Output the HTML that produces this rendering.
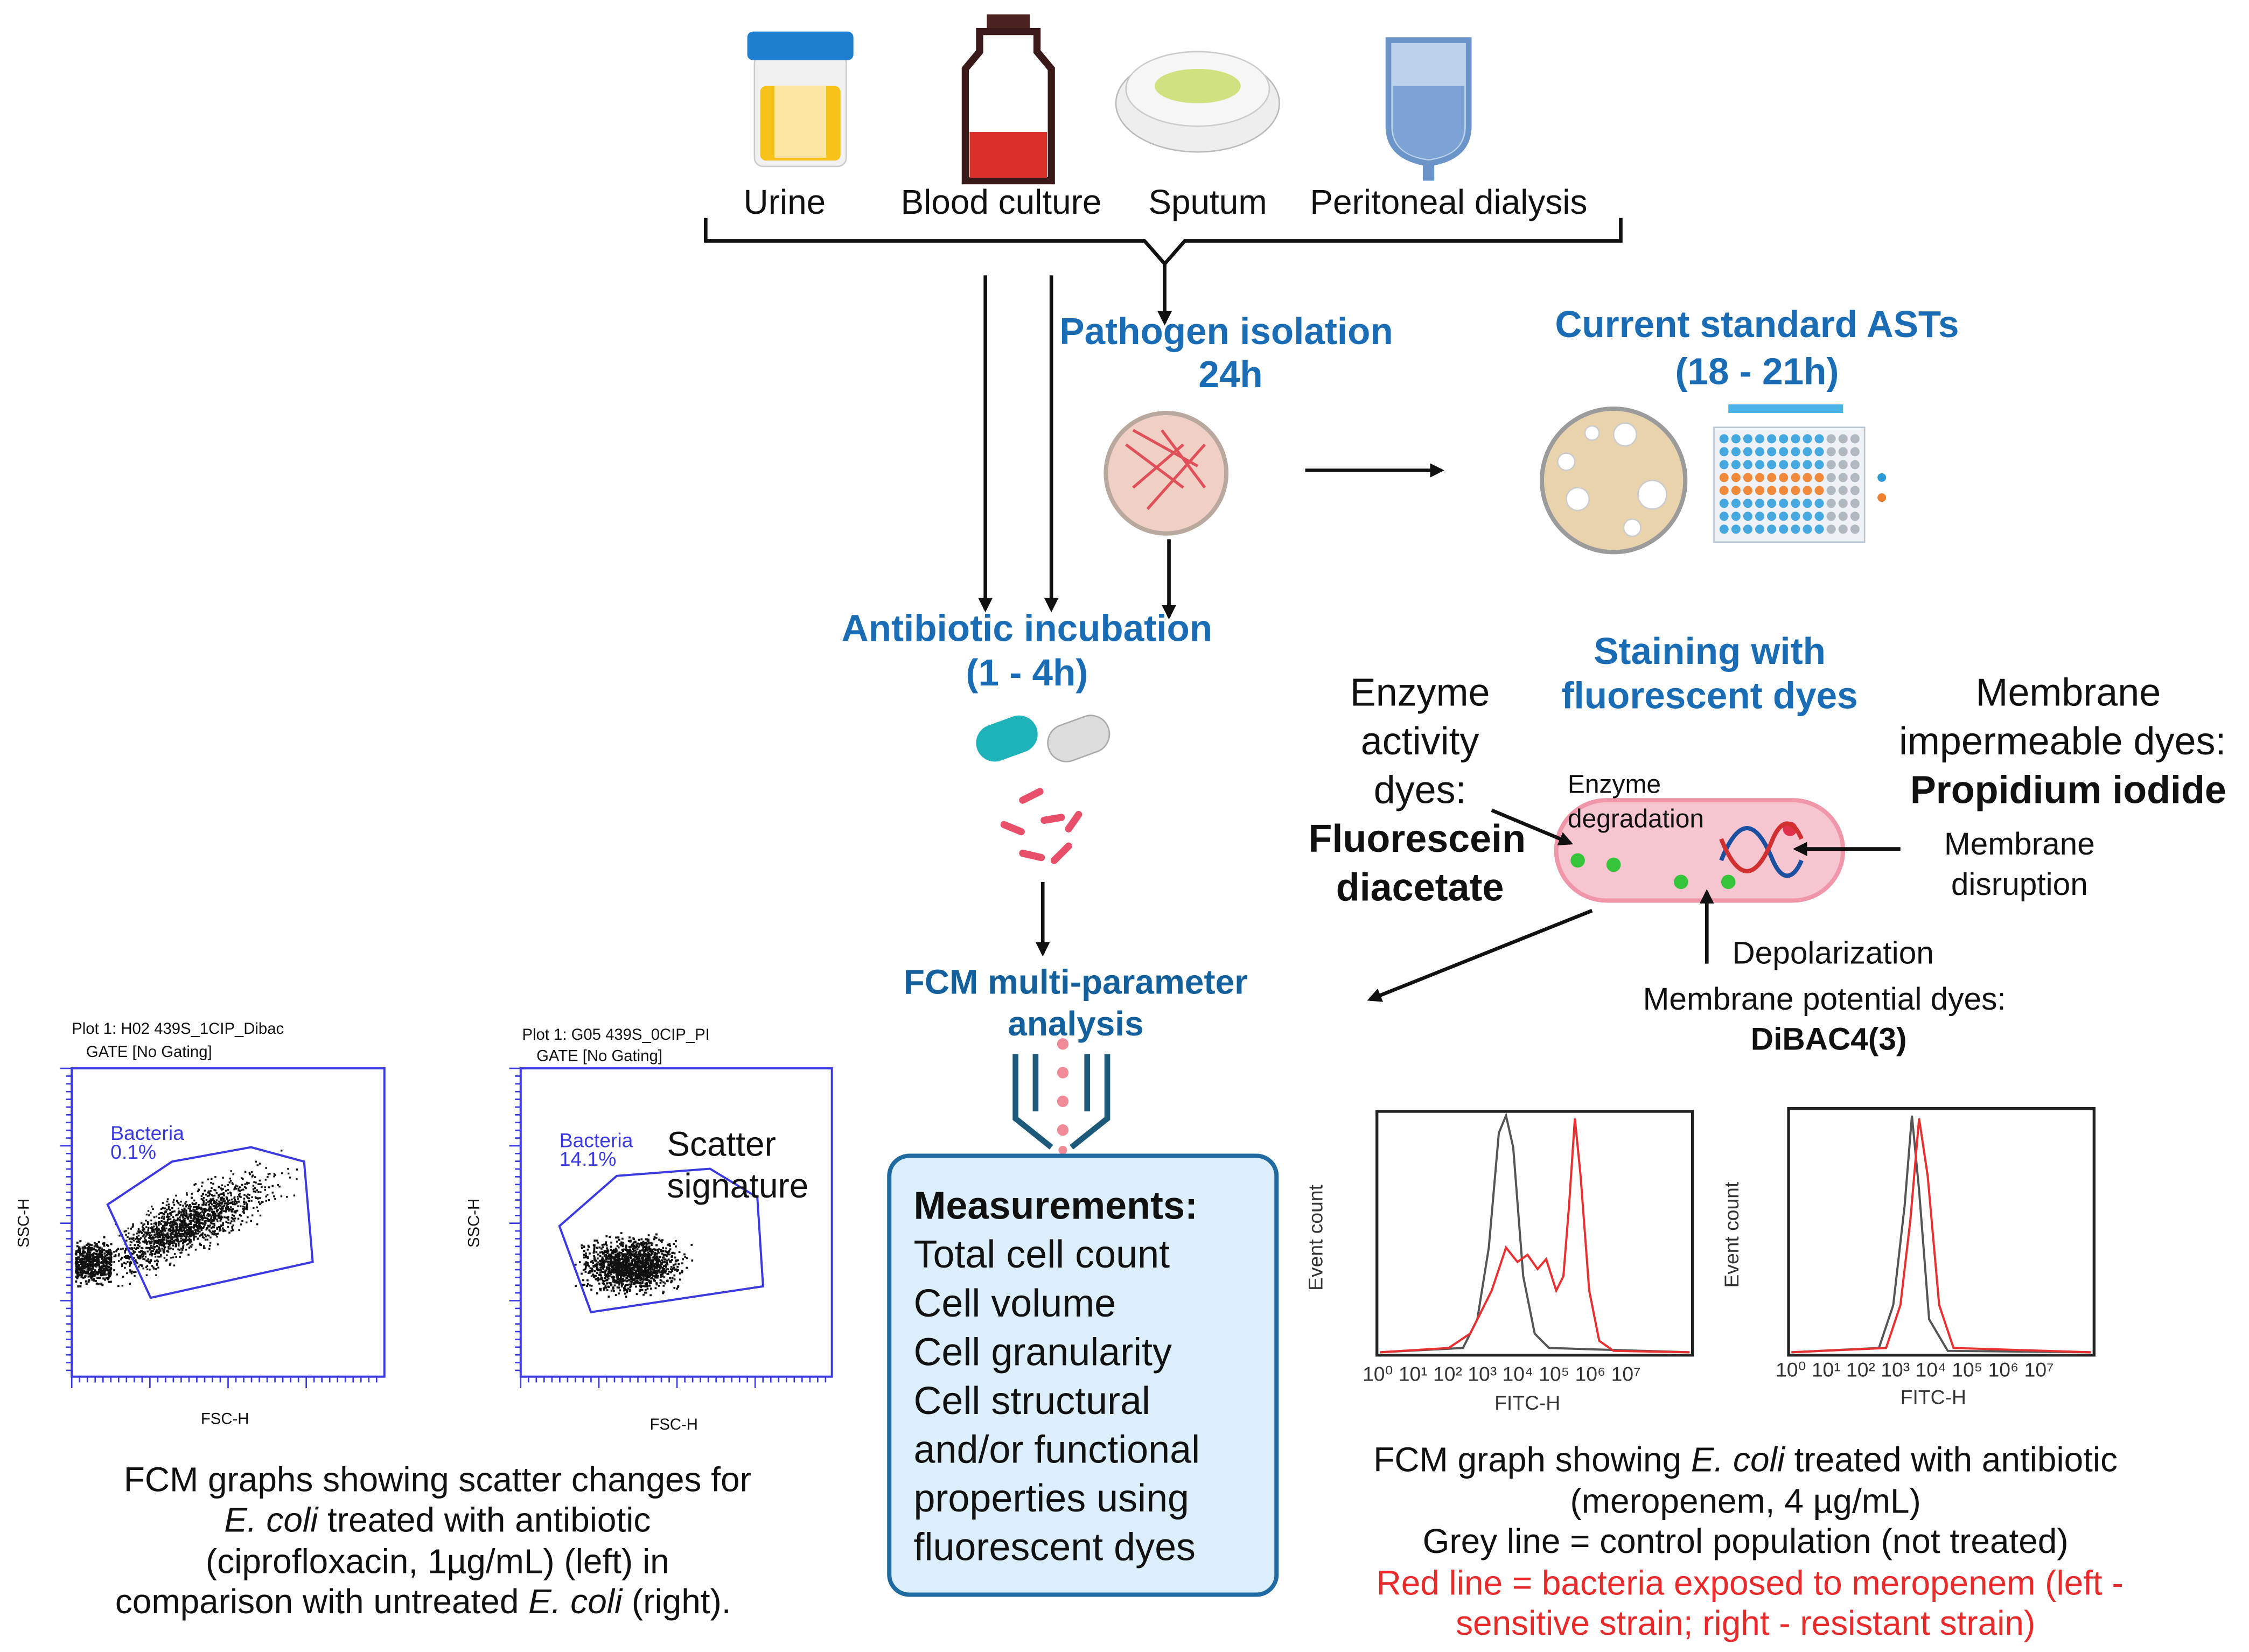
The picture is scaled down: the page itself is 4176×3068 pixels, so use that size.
<!DOCTYPE html>
<html><head><meta charset="utf-8"><style>
html,body{margin:0;padding:0;background:#fff}
svg{display:block}
text{font-family:"Liberation Sans",sans-serif}
</style></head><body>
<svg id="s" width="4176" height="3068" viewBox="0 0 1568 1152" xmlns="http://www.w3.org/2000/svg">
<defs>
<marker id="a" markerWidth="10" markerHeight="10" refX="8" refY="5" orient="auto" markerUnits="userSpaceOnUse"><path d="M0,0 L10,5 L0,10 z" fill="#111"/></marker>
</defs>
<rect width="1568" height="1152" fill="#fff"/>
<!-- top icons -->
<rect x="526" y="38" width="64" height="78" rx="6" fill="#f1f1f1" stroke="#ccc"/>
<rect x="530" y="60" width="56" height="52" rx="4" fill="#f7c21a"/>
<rect x="540" y="60" width="36" height="50" fill="#fbe7a0"/>
<rect x="521" y="22" width="74" height="20" rx="4" fill="#1e7fd0"/>
<rect x="688" y="10" width="30" height="12" fill="#4a2320"/>
<path d="M683,22 h40 v14 l10,12 v78 h-60 v-78 l10,-12z" fill="#fff" stroke="#3a1a18" stroke-width="5"/>
<rect x="676" y="92" width="54" height="32" fill="#d9302b"/>
<ellipse cx="835" cy="72" rx="57" ry="34" fill="#eee" stroke="#bbb"/>
<ellipse cx="835" cy="62" rx="50" ry="26" fill="#f6f6f6" stroke="#ccc"/>
<ellipse cx="835" cy="60" rx="30" ry="12" fill="#cfe27f"/>
<path d="M968,28 h56 v60 q0,22 -28,26 q-28,-4 -28,-26z" fill="#bcd2ea" stroke="#6b95c8" stroke-width="4"/>
<path d="M971,60 h50 v28 q0,20 -25,23 q-25,-3 -25,-23z" fill="#7da3d5"/>
<rect x="992" y="112" width="8" height="14" fill="#6b95c8"/>
<g font-size="24" text-anchor="middle" fill="#111">
<text x="547" y="149">Urine</text><text x="698" y="149">Blood culture</text><text x="842" y="149">Sputum</text><text x="1010" y="149">Peritoneal dialysis</text>
</g>
<path d="M492,152 v16 h306 l14,16 l14,-16 h304 v-16" fill="none" stroke="#111" stroke-width="2.5"/>
<g stroke="#111" stroke-width="2.5" marker-end="url(#a)">
<line x1="812" y1="184" x2="812" y2="225"/>
<line x1="687" y1="192" x2="687" y2="425"/>
<line x1="733" y1="192" x2="733" y2="425"/>
<line x1="815" y1="376" x2="815" y2="430"/>
<line x1="910" y1="328" x2="1005" y2="328"/>
<line x1="727" y1="615" x2="727" y2="665"/>
<line x1="1110" y1="635" x2="955" y2="697"/>
</g>
<g font-weight="bold" fill="#1a6db5" text-anchor="middle" font-size="26">
<text x="855" y="240">Pathogen isolation</text><text x="858" y="270">24h</text>
<text x="1225" y="235">Current standard ASTs</text><text x="1225" y="268">(18 - 21h)</text>
<text x="716" y="447">Antibiotic incubation</text><text x="716" y="478">(1 - 4h)</text>
<text x="1192" y="463">Staining with</text><text x="1192" y="494">fluorescent dyes</text>
</g>
<g font-weight="bold" fill="#14609c" text-anchor="middle" font-size="24">
<text x="750" y="693">FCM multi-parameter</text><text x="750" y="722">analysis</text>
</g>
<!-- red plate -->
<circle cx="813" cy="330" r="42" fill="#f0d0c4" stroke="#b8a89e" stroke-width="3"/>
<path d="M785,310 l40,30 M790,300 l45,25 M800,355 l40,-45 M790,340 l35,-30 M810,300 l30,40" stroke="#e0505a" stroke-width="2"/>
<!-- AST plate -->
<circle cx="1125" cy="335" r="50" fill="#e9d3ad" stroke="#9b9b9b" stroke-width="3"/>
<g fill="#fff" stroke="#ccc"><circle cx="1133" cy="303" r="8"/><circle cx="1152" cy="345" r="10"/><circle cx="1100" cy="348" r="8"/><circle cx="1092" cy="322" r="6"/><circle cx="1138" cy="368" r="6"/><circle cx="1110" cy="302" r="5"/></g>
<rect x="1195" y="298" width="105" height="80" fill="#eef2f6" stroke="#b9c6d2"/>
<rect x="1205" y="282" width="80" height="6" fill="#4bb3e6"/>
<g id="wells"></g>
<circle cx="1312" cy="333" r="3" fill="#2a9ad6"/><circle cx="1312" cy="347" r="3" fill="#f08030"/>
<!-- capsules -->
<g transform="rotate(-20 702 515)"><rect x="680" y="502" width="44" height="26" rx="13" fill="#1db3b8"/></g>
<g transform="rotate(-20 752 515)"><rect x="730" y="502" width="44" height="26" rx="13" fill="#ddd" stroke="#aaa"/></g>
<g stroke="#e8506a" stroke-width="5" stroke-linecap="round">
<line x1="713" y1="558" x2="725" y2="552"/><line x1="700" y1="575" x2="712" y2="580"/><line x1="728" y1="572" x2="740" y2="570"/><line x1="735" y1="600" x2="745" y2="590"/><line x1="713" y1="595" x2="726" y2="598"/><line x1="745" y1="578" x2="752" y2="568"/>
</g>
<!-- nozzle -->
<path d="M708,735 v45 l25,20 M772,735 v45 l-25,20 M722,735 v40 M758,735 v40" stroke="#1d5a7a" stroke-width="4" fill="none"/>
<g fill="#f08a96"><circle cx="741" cy="728" r="4"/><circle cx="741" cy="748" r="4"/><circle cx="741" cy="768" r="4"/><circle cx="741" cy="788" r="4"/><circle cx="741" cy="802" r="3"/></g>
<!-- measurements -->
<rect x="620" y="806" width="270" height="306" rx="14" fill="#dbeefa" stroke="#1f6aa0" stroke-width="3"/>
<g font-size="27" fill="#111">
<text x="637" y="850" font-weight="bold">Measurements:</text>
<text x="637" y="884">Total cell count</text><text x="637" y="918">Cell volume</text><text x="637" y="952">Cell granularity</text><text x="637" y="986">Cell structural</text><text x="637" y="1020">and/or functional</text><text x="637" y="1054">properties using</text><text x="637" y="1088">fluorescent dyes</text>
</g>
<!-- dyes text -->
<g font-size="27" fill="#111" text-anchor="middle">
<text x="990" y="492">Enzyme</text><text x="990" y="526">activity</text><text x="990" y="560">dyes:</text>
<text x="988" y="594" font-weight="bold">Fluorescein</text><text x="990" y="628" font-weight="bold">diacetate</text>
<text x="1442" y="492">Membrane</text><text x="1438" y="526">impermeable dyes:</text><text x="1442" y="560" font-weight="bold">Propidium iodide</text>
</g>
<rect x="1085" y="558" width="200" height="70" rx="35" fill="#f7c5cf" stroke="#ef97a8" stroke-width="3"/>
<g fill="#35c43a"><circle cx="1100" cy="600" r="5"/><circle cx="1125" cy="603" r="5"/><circle cx="1172" cy="615" r="5"/><circle cx="1205" cy="615" r="5"/></g>
<circle cx="1248" cy="578" r="5" fill="#e0304a"/>
<path d="M1200,600 c12,-30 24,-30 36,0 c8,18 16,10 20,0" stroke="#1b4fa0" stroke-width="3" fill="none"/>
<path d="M1200,585 c12,30 24,30 36,0 c8,-18 16,-10 20,0" stroke="#d03030" stroke-width="3" fill="none"/>
<g stroke="#111" stroke-width="2.5" marker-end="url(#a)">
<line x1="1040" y1="565" x2="1095" y2="588"/>
<line x1="1325" y1="592" x2="1252" y2="592"/>
<line x1="1190" y1="672" x2="1190" y2="622"/>
</g>
<g font-size="18" fill="#111"><text x="1093" y="553">Enzyme</text><text x="1093" y="577">degradation</text></g>
<g font-size="22" fill="#111" text-anchor="middle"><text x="1408" y="596">Membrane</text><text x="1408" y="624">disruption</text>
<text x="1278" y="672">Depolarization</text><text x="1272" y="704">Membrane potential dyes:</text><text x="1275" y="732" font-weight="bold">DiBAC4(3)</text></g>
<!-- histograms -->
<rect x="960" y="775" width="220" height="170" fill="none" stroke="#222" stroke-width="2"/>
<rect x="1247" y="773" width="213" height="172" fill="none" stroke="#222" stroke-width="2"/>
<path d="M962,943 L1020,940 L1030,920 L1038,870 L1045,790 L1050,778 L1055,800 L1062,890 L1070,930 L1080,940 L1178,943" fill="none" stroke="#555" stroke-width="1.5"/>
<path d="M962,943 L1010,940 L1025,930 L1040,900 L1050,870 L1058,880 L1065,875 L1072,885 L1078,878 L1085,900 L1090,890 L1094,840 L1098,780 L1102,820 L1108,900 L1115,935 L1125,942 L1178,943" fill="none" stroke="#e83030" stroke-width="1.5"/>
<path d="M1249,943 L1310,940 L1320,910 L1328,840 L1333,778 L1338,830 L1345,920 L1358,942 L1458,943" fill="none" stroke="#555" stroke-width="1.5"/>
<path d="M1249,943 L1315,940 L1325,910 L1332,850 L1338,780 L1344,820 L1352,910 L1362,940 L1458,943" fill="none" stroke="#e83030" stroke-width="1.5"/>
<g font-size="14" fill="#333"><text transform="translate(922,900) rotate(-90)">Event count</text><text transform="translate(1212,898) rotate(-90)">Event count</text>
<text x="1042" y="983">FITC-H</text><text x="1325" y="979">FITC-H</text>
<text x="950" y="963">10⁰ 10¹ 10² 10³ 10⁴ 10⁵ 10⁶ 10⁷</text><text x="1238" y="960">10⁰ 10¹ 10² 10³ 10⁴ 10⁵ 10⁶ 10⁷</text></g>
<g font-size="24" fill="#111" text-anchor="middle">
<text x="1217" y="1026">FCM graph showing <tspan font-style="italic">E. coli</tspan> treated with antibiotic</text>
<text x="1217" y="1055">(meropenem, 4 µg/mL)</text>
<text x="1217" y="1083">Grey line = control population (not treated)</text>
<text x="1220" y="1112" fill="#e82a2a">Red line = bacteria exposed to meropenem (left -</text>
<text x="1217" y="1140" fill="#e82a2a">sensitive strain; right - resistant strain)</text>
</g>
<!-- scatter plots -->
<rect x="50" y="745" width="218" height="215" fill="none" stroke="#3a3ae0" stroke-width="1.5"/>
<rect x="363" y="745" width="217" height="215" fill="none" stroke="#3a3ae0" stroke-width="1.5"/>
<g id="ticks" stroke="#3a3ae0" stroke-width="1"></g>
<g id="dots"></g>
<path d="M75,840 L120,810 L175,800 L212,810 L218,880 L105,905z" fill="none" stroke="#3a3ae0" stroke-width="1.5"/>
<path d="M390,855 L430,820 L495,815 L528,835 L532,897 L412,915z" fill="none" stroke="#3a3ae0" stroke-width="1.5"/>
<g font-size="14" fill="#3a3ae0"><text x="77" y="795">Bacteria</text><text x="77" y="808">0.1%</text><text x="390" y="800">Bacteria</text><text x="390" y="813">14.1%</text></g>
<g font-size="11" fill="#111"><text x="50" y="721">Plot 1: H02 439S_1CIP_Dibac</text><text x="60" y="737">GATE    [No Gating]</text>
<text x="364" y="725">Plot 1: G05 439S_0CIP_PI</text><text x="374" y="740">GATE    [No Gating]</text>
<text x="140" y="993">FSC-H</text><text x="453" y="997">FSC-H</text>
<text transform="translate(20,870) rotate(-90)">SSC-H</text><text transform="translate(334,870) rotate(-90)">SSC-H</text></g>
<g font-size="24" fill="#111"><text x="465" y="806">Scatter</text><text x="465" y="835">signature</text></g>
<g font-size="24" fill="#111" text-anchor="middle">
<text x="305" y="1040">FCM graphs showing scatter changes for</text>
<text x="305" y="1068"><tspan font-style="italic">E. coli</tspan> treated with antibiotic</text>
<text x="305" y="1097">(ciprofloxacin, 1µg/mL) (left) in</text>
<text x="295" y="1125">comparison with untreated <tspan font-style="italic">E. coli</tspan> (right).</text>
</g>
</svg>
<script>
var s="";
var w=document.getElementById("wells");
for(var r=0;r<8;r++)for(var c=0;c<12;c++){var col=(r==3||r==4)?"#f08a3a":"#45a8e0";if(c>8)col="#b0b8c0";s+='<circle cx="'+(1202+c*8.3)+'" cy="'+(306+r*9)+'" r="3.2" fill="'+col+'"/>';}
w.innerHTML=s;
s="";
[[50,745],[363,745]].forEach(function(p){for(var i=0;i<40;i++){var L=(i%10==0)?8:4;var x=p[0]+i*5.45;s+='<line x1="'+x+'" y1="960" x2="'+x+'" y2="'+(960+L)+'"/>';var y=p[1]+i*5.4;s+='<line x1="'+p[0]+'" y1="'+y+'" x2="'+(p[0]-L)+'" y2="'+y+'"/>';}});
document.getElementById("ticks").innerHTML=s;
var seed=7;function rnd(){seed=(seed*16807)%2147483647;return seed/2147483647;}
function g(){return (rnd()+rnd()+rnd()-1.5)/1.5;}
s="";
for(var i=0;i<1600;i++){var x=75+Math.abs(g())*90+rnd()*60,y=885-(x-60)*0.45+g()*28;if(x<268&&y>750&&y<958)s+='<rect x="'+x.toFixed(1)+'" y="'+y.toFixed(1)+'" width="1.3" height="1.3" fill="#111"/>';}
for(var i=0;i<500;i++){var x=52+rnd()*25,y=880+g()*20;s+='<rect x="'+x.toFixed(1)+'" y="'+y.toFixed(1)+'" width="1.5" height="1.5" fill="#111"/>';}
for(var i=0;i<1500;i++){var x=440+g()*45,y=882+g()*25;s+='<rect x="'+x.toFixed(1)+'" y="'+y.toFixed(1)+'" width="1.4" height="1.4" fill="#111"/>';}
document.getElementById("dots").innerHTML=s;
</script>
</body></html>
